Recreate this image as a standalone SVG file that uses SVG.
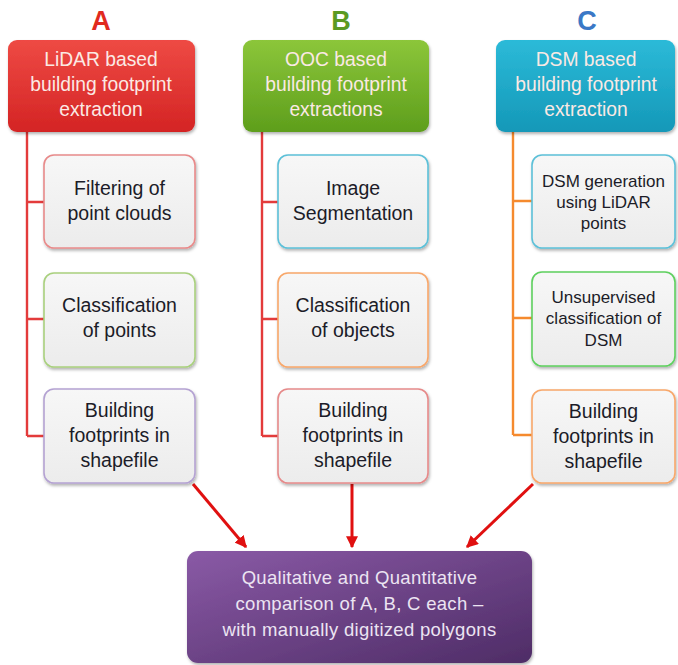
<svg xmlns="http://www.w3.org/2000/svg" width="678" height="665" viewBox="0 0 678 665">
  <defs>
    <linearGradient id="gRed" x1="0" y1="0" x2="0" y2="1">
      <stop offset="0" stop-color="#ee4a44"/>
      <stop offset="1" stop-color="#d42424"/>
    </linearGradient>
    <linearGradient id="gGreen" x1="0" y1="0" x2="0" y2="1">
      <stop offset="0" stop-color="#8cc63a"/>
      <stop offset="1" stop-color="#5e9e1c"/>
    </linearGradient>
    <linearGradient id="gTeal" x1="0" y1="0" x2="0" y2="1">
      <stop offset="0" stop-color="#2cbad8"/>
      <stop offset="1" stop-color="#1498b8"/>
    </linearGradient>
    <linearGradient id="gPurple" x1="0" y1="0" x2="1" y2="1">
      <stop offset="0" stop-color="#8a5aa6"/>
      <stop offset="1" stop-color="#4e2c66"/>
    </linearGradient>
    <linearGradient id="gLight" x1="0" y1="0" x2="0" y2="1">
      <stop offset="0" stop-color="#f7f7f7"/>
      <stop offset="1" stop-color="#ececec"/>
    </linearGradient>
    <filter id="shadow" x="-10%" y="-10%" width="125%" height="130%">
      <feDropShadow dx="1" dy="2" stdDeviation="1.6" flood-color="#000" flood-opacity="0.3"/>
    </filter>
    <marker id="arrow" viewBox="0 0 10 10" refX="9" refY="5" markerWidth="4" markerHeight="4" orient="auto" markerUnits="strokeWidth">
      <path d="M0,0 L10,5 L0,10 z" fill="#e01010"/>
    </marker>
  </defs>
  <style>
    .lab { font-family: "Liberation Sans", Arial, sans-serif; font-weight: bold; font-size: 27px; text-anchor: middle; }
    .head { font-family: "Liberation Sans", Arial, sans-serif; font-size: 19.3px; fill: #fbe9e4; text-anchor: middle; }
    .sub { font-family: "Liberation Sans", Arial, sans-serif; font-size: 19.5px; fill: #1c1c28; text-anchor: middle; }
    .subs { font-family: "Liberation Sans", Arial, sans-serif; font-size: 17px; fill: #1c1c28; text-anchor: middle; }
    .foot { font-family: "Liberation Sans", Arial, sans-serif; font-size: 18.5px; letter-spacing: 0.3px; fill: #ece4f2; text-anchor: middle; }
    .box { fill: url(#gLight); stroke-width: 1.6; filter: url(#shadow); }
    .tree { fill: none; stroke-width: 2.4; }
    .arr { stroke: #e01010; stroke-width: 3; fill: none; marker-end: url(#arrow); }
  </style>

  <rect width="678" height="665" fill="#ffffff"/>

  <!-- column letters -->
  <text class="lab" x="101" y="30" fill="#e12a1e">A</text>
  <text class="lab" x="341" y="30" fill="#5b9a22">B</text>
  <text class="lab" x="587" y="30" fill="#3a78c6">C</text>

  <!-- tree connectors -->
  <g id="connectors">
    <path class="tree" stroke="#e33b3b" d="M27,132 V436 M27,202 H44 M27,319 H44 M27,436 H44"/>
    <path class="tree" stroke="#e33b3b" d="M262,132 V436 M262,202 H278 M262,319 H278 M262,436 H278"/>
    <path class="tree" stroke="#f58a2e" d="M513,132 V435 M513,201 H532 M513,318 H532 M513,435 H532"/>
    <path class="arr" d="M193,484 L246,547"/>
    <path class="arr" d="M352,484 V547"/>
    <path class="arr" d="M533,484 L467,547"/>
  </g>

  <!-- column A -->
  <g id="headA">
    <rect x="8" y="40" width="187" height="92" rx="9" fill="url(#gRed)" filter="url(#shadow)"/>
    <text class="head" x="101" y="66">LiDAR based</text>
    <text class="head" x="101" y="91">building footprint</text>
    <text class="head" x="101" y="116">extraction</text>
  </g>
  <g id="a1">
    <rect class="box" x="44" y="155" width="151" height="93" rx="10" stroke="#e88a8a"/>
    <text class="sub" x="119.5" y="195">Filtering of</text>
    <text class="sub" x="119.5" y="220">point clouds</text>
  </g>
  <g id="a2">
    <rect class="box" x="44" y="273" width="151" height="94" rx="10" stroke="#a9d07e"/>
    <text class="sub" x="119.5" y="312">Classification</text>
    <text class="sub" x="119.5" y="337">of points</text>
  </g>
  <g id="a3">
    <rect class="box" x="44" y="389" width="151" height="94" rx="10" stroke="#b4a2d2"/>
    <text class="sub" x="119.5" y="417">Building</text>
    <text class="sub" x="119.5" y="442">footprints in</text>
    <text class="sub" x="119.5" y="467">shapefile</text>
  </g>

  <!-- column B -->
  <g id="headB">
    <rect x="243" y="40" width="186" height="92" rx="9" fill="url(#gGreen)" filter="url(#shadow)"/>
    <text class="head" x="336" y="66">OOC based</text>
    <text class="head" x="336" y="91">building footprint</text>
    <text class="head" x="336" y="116">extractions</text>
  </g>
  <g id="b1">
    <rect class="box" x="278" y="155" width="150" height="93" rx="10" stroke="#5cc0d8"/>
    <text class="sub" x="353" y="195">Image</text>
    <text class="sub" x="353" y="220">Segmentation</text>
  </g>
  <g id="b2">
    <rect class="box" x="278" y="273" width="150" height="94" rx="10" stroke="#f8a76a"/>
    <text class="sub" x="353" y="312">Classification</text>
    <text class="sub" x="353" y="337">of objects</text>
  </g>
  <g id="b3">
    <rect class="box" x="278" y="389" width="150" height="94" rx="10" stroke="#e68a8a"/>
    <text class="sub" x="353" y="417">Building</text>
    <text class="sub" x="353" y="442">footprints in</text>
    <text class="sub" x="353" y="467">shapefile</text>
  </g>

  <!-- column C -->
  <g id="headC">
    <rect x="496" y="40" width="179" height="92" rx="9" fill="url(#gTeal)" filter="url(#shadow)"/>
    <text class="head" x="586" y="66">DSM based</text>
    <text class="head" x="586" y="91">building footprint</text>
    <text class="head" x="586" y="116">extraction</text>
  </g>
  <g id="c1">
    <rect class="box" x="532" y="155" width="143" height="93" rx="10" stroke="#5cc0d8"/>
    <text class="subs" x="603.5" y="187">DSM generation</text>
    <text class="subs" x="603.5" y="208">using LiDAR</text>
    <text class="subs" x="603.5" y="229">points</text>
  </g>
  <g id="c2">
    <rect class="box" x="532" y="272" width="143" height="94" rx="10" stroke="#5ed05e"/>
    <text class="subs" x="603.5" y="303">Unsupervised</text>
    <text class="subs" x="603.5" y="324">classification of</text>
    <text class="subs" x="603.5" y="346">DSM</text>
  </g>
  <g id="c3">
    <rect class="box" x="532" y="390" width="143" height="93" rx="10" stroke="#f8a76a"/>
    <text class="sub" x="603.5" y="418">Building</text>
    <text class="sub" x="603.5" y="443">footprints in</text>
    <text class="sub" x="603.5" y="468">shapefile</text>
  </g>

  <!-- comparison -->
  <g id="compare">
    <rect x="187" y="551" width="345" height="112" rx="11" fill="url(#gPurple)" filter="url(#shadow)"/>
    <text class="foot" x="359.5" y="584">Qualitative and Quantitative</text>
    <text class="foot" x="359.5" y="610">comparison of A, B, C each –</text>
    <text class="foot" x="359.5" y="636">with manually digitized polygons</text>
  </g>
</svg>
